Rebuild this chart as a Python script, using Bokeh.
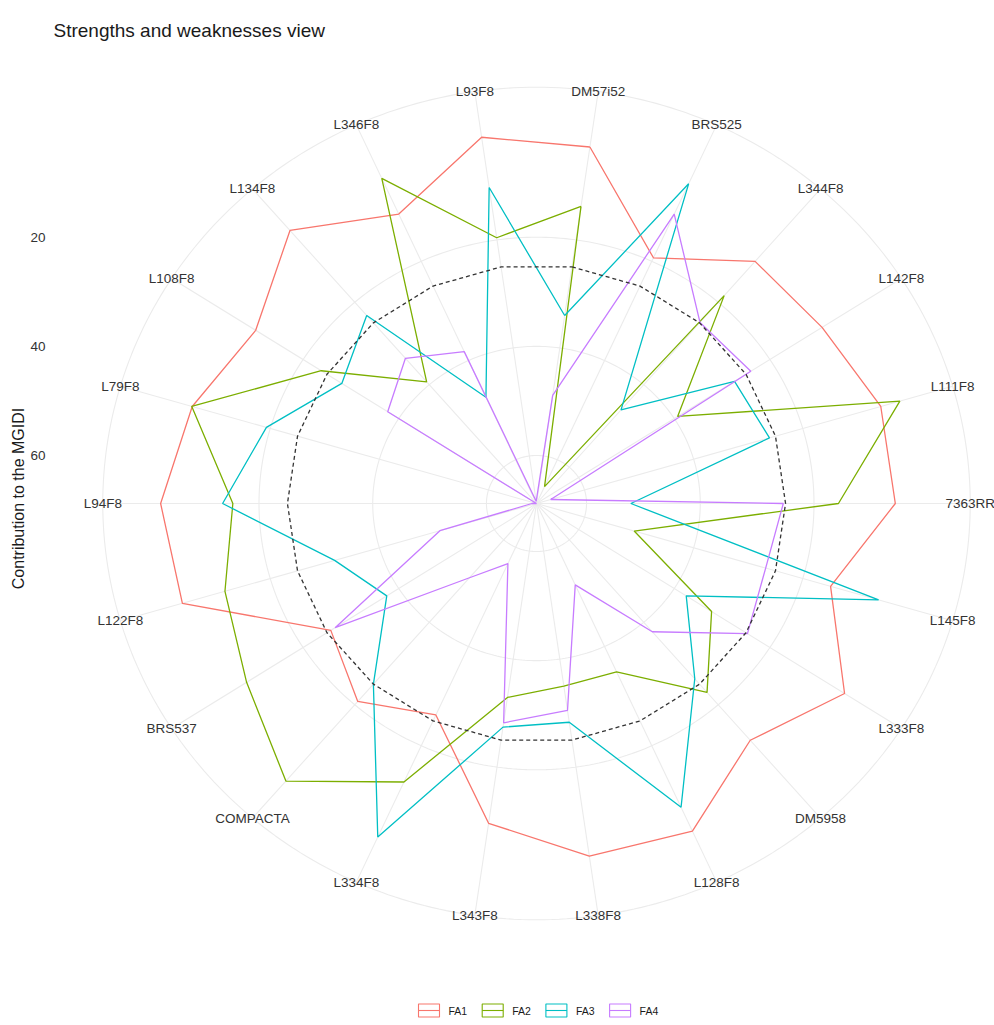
import numpy as np
from bokeh.plotting import figure
from bokeh.models import Range1d
from bokeh.embed import file_html
from bokeh.resources import INLINE
from bokeh.core.properties import value

# ---- data: contribution (%) of each factor to the MGIDI of each genotype ----
genotypes = ["DM57i52", "BRS525", "L344F8", "L142F8", "L111F8", "7363RR",
             "L145F8", "L333F8", "DM5958", "L128F8", "L338F8", "L343F8",
             "L334F8", "COMPACTA", "BRS537", "L122F8", "L94F8", "L79F8",
             "L108F8", "L134F8", "L346F8", "L93F8"]

fa1 = [2.8, 19.3, 10.1, 9.1, 5.7, 5.7, 14.9, 4.4, 11.4, 2.8, 3.5,
       9.6, 26.2, 20.8, 25.8, 3.9, 2.7, 5.7, 10.1, 2.6, 10.5, 1.0]
fa2 = [13.8, 65.4, 18.4, 39.3, 2.2, 15.7, 50.9, 32.2, 23.0, 34.9, 35.0,
       32.9, 12.7, 1.5, 8.2, 11.7, 15.4, 5.6, 23.8, 39.3, 3.3, 19.6]
fa3 = [34.0, 4.4, 46.1, 27.4, 26.1, 52.2, 6.1, 37.5, 26.3, 7.6, 28.3,
       27.4, 1.6, 25.0, 37.5, 31.8, 13.6, 19.3, 28.1, 23.2, 47.4, 10.3]
fa4 = [48.8, 10.5, 24.9, 24.0, 66.2, 25.4, 26.8, 24.7, 37.7, 52.4, 30.5,
       28.2, 56.7, 50.8, 26.7, 51.1, 68.0, 68.8, 37.7, 33.6, 38.2, 68.4]

factors = ["FA1", "FA2", "FA3", "FA4"]
series = [fa1, fa2, fa3, fa4]
colors = ["#F8766D", "#7CAE00", "#00BFC4", "#C77CFF"]

expected = 100 / len(factors)       # equal-contribution reference (dashed)
radial_breaks = [20, 40, 60]

# ---- canvas geometry (screen pixels) ----
W, H = 994, 1025
CX, CY = 536, 503          # centre of the radar
HX = 1.042                 # horizontal pixels per radial unit
R_IN = 370.0               # radius spanned by the data range
R_OUT = R_IN * 0.45 / 0.4  # outer ring where the genotype names sit


def X(px):
    return (px - CX) / HX


def Y(py):
    return CY - py


allv = np.concatenate([np.asarray(s, dtype=float) for s in series])
vmin, vmax = allv.min(), allv.max()


def radius(v):
    # reversed radial scale: larger contributions sit closer to the centre
    return R_IN * (vmax - np.asarray(v, dtype=float)) / (vmax - vmin)


n = len(genotypes)
theta = 2 * np.pi * (np.arange(n) + 0.5) / n   # clockwise from 12 o'clock
sin_t, cos_t = np.sin(theta), np.cos(theta)


def ring(vals):
    r = radius(vals)
    xs = list(r * sin_t) + [r[0] * sin_t[0]]
    ys = list(r * cos_t) + [r[0] * cos_t[0]]
    return xs, ys


p = figure(width=W, height=H, output_backend="svg", toolbar_location=None,
           x_axis_type=None, y_axis_type=None,
           x_range=Range1d(X(0), X(W)), y_range=Range1d(Y(H), Y(0)),
           min_border=0, outline_line_color=None)
p.grid.visible = False
p.background_fill_color = "white"
p.border_fill_color = "white"

GRID = "#EBEBEB"
FONT = "Liberation Sans"

# spokes
p.multi_line([[0, R_OUT * s] for s in sin_t], [[0, R_OUT * c] for c in cos_t],
             line_color=GRID, line_width=1.1)

# radial grid circles
phi = np.linspace(0, 2 * np.pi, 361)
circ_r = [float(radius(b)) for b in radial_breaks] + [R_OUT]
p.multi_line([list(r * np.sin(phi)) for r in circ_r],
             [list(r * np.cos(phi)) for r in circ_r],
             line_color=GRID, line_width=1.1)

# factor polygons
for vals, col in zip(series, colors):
    xs, ys = ring(vals)
    p.line(xs, ys, line_color=col, line_width=1.3)

# equal-contribution reference
xs, ys = ring([expected] * n)
p.line(xs, ys, line_color="#333333", line_width=1.3, line_dash="4 3")

# genotype labels on the outer ring
p.text(x=list(R_OUT * sin_t), y=list(R_OUT * cos_t), text=genotypes,
       text_align="center", text_baseline="middle",
       text_font=value(FONT), text_font_size="13.5px", text_color="#333333")

# radial axis tick labels
p.text(x=[X(45)] * len(radial_breaks), y=[float(radius(b)) for b in radial_breaks],
       text=[str(b) for b in radial_breaks], text_align="right",
       text_baseline="middle", text_font=value(FONT),
       text_font_size="13.5px", text_color="#333333")

# radial axis title
p.text(x=[X(18)], y=[Y(498)], text=["Contribution to the MGIDI"], angle=np.pi / 2,
       text_align="center", text_baseline="middle", text_font=value(FONT),
       text_font_size="16px", text_color="#1a1a1a")

# plot title
p.text(x=[X(53)], y=[Y(30)], text=["Strengths and weaknesses view"],
       text_align="left", text_baseline="alphabetic", text_font=value(FONT),
       text_font_size="19px", text_color="#1a1a1a")

# legend
key_w, key_h, step = 21, 13, 63.7
x0, ly = 418, 1010
for i, (name, col) in enumerate(zip(factors, colors)):
    kx = x0 + i * step
    p.rect(x=[X(kx + key_w / 2)], y=[Y(ly)], width=key_w / HX, height=key_h,
           fill_color=None, line_color=col, line_width=1.1)
    p.line([X(kx), X(kx + key_w)], [Y(ly), Y(ly)], line_color=col, line_width=1.1)
    p.text(x=[X(kx + key_w + 9)], y=[Y(ly)], text=[name], text_align="left",
           text_baseline="middle", text_font=value(FONT),
           text_font_size="10.5px", text_color="#1a1a1a")

open("out.html", "w").write(file_html(p, INLINE))
